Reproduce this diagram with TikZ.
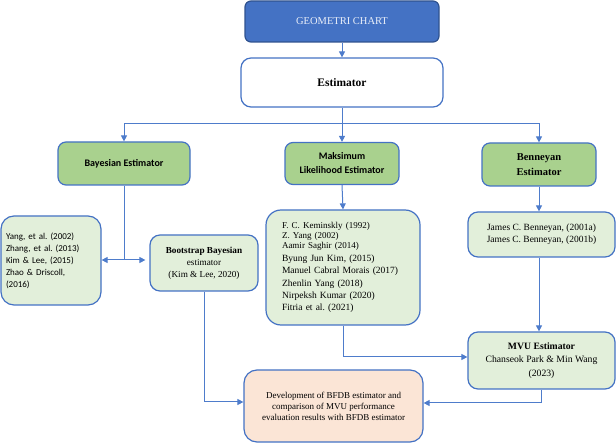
\documentclass[tikz,border=0pt]{standalone}
\usepackage{fontspec}
\setmainfont{Liberation Serif}
\newfontfamily\calibrifont{Carlito}
\usetikzlibrary{arrows.meta}
\definecolor{ofblue}{HTML}{4472C4}
\definecolor{ofdark}{HTML}{2F528F}
\definecolor{ofgreen}{HTML}{A9D18E}
\definecolor{oflight}{HTML}{E2EFDA}
\definecolor{ofpeach}{HTML}{FBE5D6}
\definecolor{linkblue}{HTML}{4E7CCB}
\definecolor{paletext}{HTML}{E9EEF8}
\frenchspacing

\begin{document}
\begin{tikzpicture}[x=1pt,y=-1pt,
  box/.style={draw=ofblue, line width=1.2pt, rectangle, rounded corners=#1,
    inner sep=0pt, align=center},
  box/.default=9pt,
  head/.style={box=6pt, fill=ofblue, draw=ofdark, text=paletext,
    font=\fontsize{10.5pt}{12pt}\selectfont},
  topic/.style={box=8pt, fill=ofgreen, font=\calibrifont\bfseries\fontsize{10pt}{14pt}\selectfont},
  topicserif/.style={box=8pt, fill=ofgreen, font=\bfseries\fontsize{10.5pt}{15pt}\selectfont},
  refbox/.style={box=#1, fill=oflight, font=\fontsize{9.5pt}{12pt}\selectfont},
  refbox/.default=10pt,
  link/.style={draw=linkblue, line width=1pt},
  arr/.style={link, -{Triangle[length=6pt,width=6pt]}},
  arrboth/.style={link, {Triangle[length=6pt,width=6pt]}-{Triangle[length=6pt,width=6pt]}},
]
\useasboundingbox (0,0) rectangle (616,443);

% top of the chart
\node[head, minimum width=194pt, minimum height=41pt] (geo) at (342,21.5) {GEOMETRI CHART};
\node[box=10pt, fill=white, minimum width=202pt, minimum height=49pt,
  font=\bfseries\fontsize{11.5pt}{14pt}\selectfont] (est) at (342,82.5) {Estimator};

% estimator families
\node[topic, minimum width=132pt, minimum height=43pt] (bay) at (124,163.5) {Bayesian Estimator};
\node[topic, minimum width=114pt, minimum height=42pt] (mle) at (342,163.5) {Maksimum\\Likelihood Estimator};
\node[topicserif, minimum width=114pt, minimum height=43pt] (ben) at (539,164.5) {Benneyan\\Estimator};

% literature boxes
\node[refbox=13pt, font=\calibrifont\fontsize{9pt}{12pt}\selectfont,
  text width=90pt, inner xsep=5pt, align=left, minimum height=89pt] (lref) at (51,260.5)
  {Yang, et al. (2002)\\Zhang, et al. (2013)\\Kim \& Lee, (2015)\\Zhao \& Driscoll,\\(2016)};
\node[refbox=10pt, minimum width=108pt, minimum height=56pt,
  font=\fontsize{9.2pt}{12pt}\selectfont] (boot) at (204,263)
  {\textbf{Bootstrap Bayesian}\\estimator\\(Kim \& Lee, 2020)};
\node[refbox=15pt, text width=122pt, inner xsep=16pt, align=left, minimum height=115pt] (mref) at (343,267.5)
  {{\fontsize{9pt}{10pt}\selectfont F. C. Keminskly (1992)\\Z. Yang (2002)\\Aamir Saghir (2014)\\[1.5pt]}%
   Byung Jun Kim, (2015)\\Manuel Cabral Morais (2017)\\[0.5pt]Zhenlin Yang (2018)\\Nirpeksh Kumar (2020)\\[0.5pt]Fitria et al. (2021)};
\node[refbox=10pt, minimum width=147pt, minimum height=45pt] (bref) at (541.5,234.5)
  {James C. Benneyan, (2001a)\\James C. Benneyan, (2001b)};
\node[refbox=10pt, minimum width=147pt, minimum height=57pt,
  font=\fontsize{9.7pt}{13.5pt}\selectfont] (mvu) at (541.5,360.5)
  {\textbf{MVU Estimator}\\Chanseok Park \& Min Wang\\(2023)};

% result
\node[box=13pt, fill=ofpeach, minimum width=179pt, minimum height=72pt,
  font=\fontsize{9pt}{11pt}\selectfont] (fin) at (333.5,406)
  {Development of BFDB estimator and\\comparison of MVU performance\\evaluation results with BFDB estimator};

% connectors
\coordinate (split) at (342,124);
\coordinate (bj) at (124,260);
\draw[arr] (geo.south) -- (est.north);
\draw[link] (est.south) -- (split);
\draw[arr] (split) -| (bay.north);
\draw[arr] (split) -- (mle.north);
\draw[arr] (split) -| (ben.north);
\draw[link] (bay.south) -- (bj);
\draw[arrboth, shorten >=4pt] (lref.east |- bj) -- (boot.west |- bj);
\draw[arr] (mle.south) -- (mref.north);
\draw[arr] (ben.south) -- (ben.south |- bref.north);
\draw[arr] (ben.south |- bref.south) -- (ben.south |- mvu.north);
\draw[arr] (mref.south) |- ([yshift=3.5pt]mvu.west);
\draw[arr] (boot.south) |- ([yshift=4pt]fin.west);
\draw[arr] (mvu.south) |- ([yshift=3pt]fin.east);
\end{tikzpicture}
\end{document}
